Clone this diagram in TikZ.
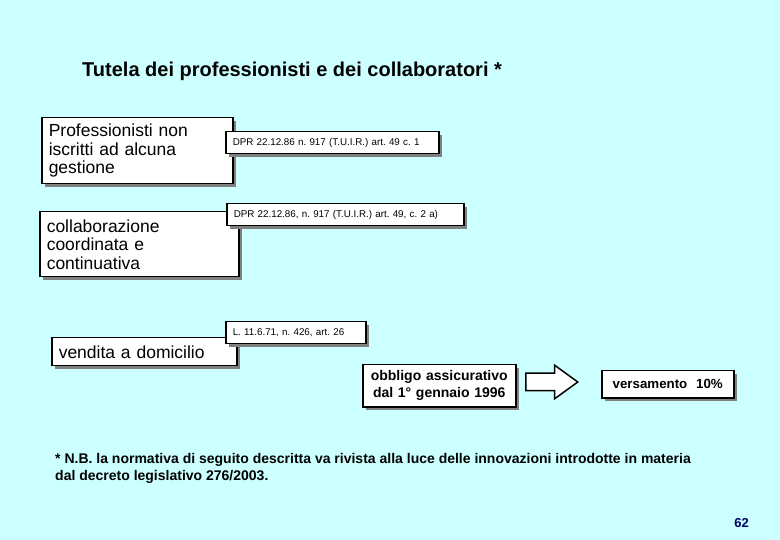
\documentclass[tikz,border=0pt]{standalone}
\usepackage{fontspec}
\setmainfont{Liberation Sans}
\usetikzlibrary{shadows,shapes.arrows}
\definecolor{sfondo}{RGB}{204,255,255}
\definecolor{blunotte}{RGB}{0,0,102}
\frenchspacing
\tikzset{
  kasten/.style={draw, line width=1.5pt, fill=white, anchor=north west, inner xsep=7pt, inner ysep=0pt, align=left,
    drop shadow={shadow xshift=3pt, shadow yshift=-3pt, fill=gray, opacity=1}},
  norm/.style={kasten, font=\fontsize{9.8}{11}\selectfont, minimum height=22pt},
  gross/.style={kasten, font=\fontsize{17.5}{18.5}\selectfont},
  fett/.style={kasten, align=center, font=\bfseries\fontsize{14}{17}\selectfont},
  pfeil/.style={draw, line width=1.5pt, fill=white, single arrow, single arrow head extend=8pt, single arrow tip angle=72,
    minimum height=52pt, minimum width=32pt, inner xsep=0pt, inner ysep=8pt, anchor=tail}
}
\begin{document}
\begin{tikzpicture}[x=1pt,y=-1pt]
  % Hintergrund
  \fill[sfondo] (0,0) rectangle (780,540);
  \useasboundingbox (0,0) rectangle (780,540);

  % Titel
  \node[anchor=base west, inner sep=0pt, font=\bfseries\fontsize{20}{24}\selectfont] (titel) at (82,77) {Tutela dei professionisti e dei collaboratori *};

  % Kaesten links, Normen darueber
  \node[gross, text width=177pt, minimum height=66pt] (prof) at (41,117) {Professionisti non\\iscritti ad alcuna\\gestione};
  \node[norm, text width=199pt] (dpr1) at (225,131) {DPR 22.12.86 n. 917 (T.U.I.R.) art. 49 c. 1};

  \node[gross, text width=185pt, minimum height=65pt] (coll) at (39,211) {collaborazione\\coordinata e\\continuativa};
  \node[norm, text width=223pt] (dpr2) at (226,203) {DPR 22.12.86, n. 917 (T.U.I.R.) art. 49, c. 2 a)};

  \node[gross, text width=171pt, minimum height=28pt] (vend) at (51,337) {vendita a domicilio};
  \node[norm, text width=126pt] (legge) at (225,321) {L. 11.6.71, n. 426, art. 26};

  % Obbligo -> Versamento
  \node[fett, text width=139pt, minimum height=42pt] (obbl) at (362,364) {obbligo assicurativo\\dal 1\textdegree{} gennaio 1996};
  \node[pfeil] (pfeil) at (525,382) {};
  \node[fett, text width=118pt, minimum height=27pt, font=\bfseries\fontsize{13.3}{16}\selectfont] (vers) at (601,370) {versamento~~10\%};

  % Fussnote
  \node[anchor=base west, inner sep=0pt, align=left, font=\bfseries\fontsize{14}{17}\selectfont] (nota) at (55,480) {* N.B. la normativa di seguito descritta va rivista alla luce delle innovazioni introdotte in materia\\dal decreto legislativo 276/2003.};

  % Seitenzahl
  \node[anchor=base east, inner sep=0pt, text=blunotte, font=\bfseries\fontsize{13}{16}\selectfont] (seite) at (749,527) {62};
\end{tikzpicture}
\end{document}
